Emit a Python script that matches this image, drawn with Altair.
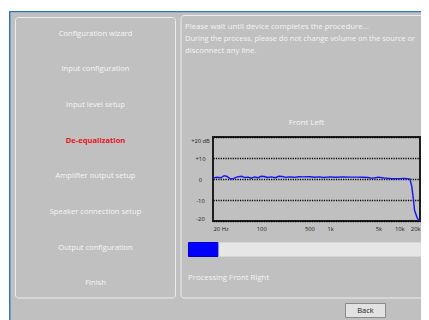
import altair as alt
import pandas as pd

# ---------------- data ----------------
freq_hz = [20, 23, 26, 29, 32, 36, 40, 45, 52, 58,
           65, 72, 80, 90, 100, 110, 125, 140, 160, 180,
           200, 230, 260, 300, 350, 400, 500, 600, 700, 800,
           1000, 1200, 1500, 2000, 2500, 3000, 3500, 4000, 4500, 5000,
           6000, 7000, 8000, 10000, 12000, 13000, 14300, 15200, 16100, 16700,
           18200, 19700, 20000]
level_db = [0.5, 0.8, 0.6, 1.6, 1.2, 0.0, 0.3, 1.0, 1.3, 0.7,
            0.9, 0.4, 1.0, 0.6, 1.3, 1.2, 0.7, 1.0, 0.6, 1.3,
            1.2, 0.8, 1.0, 0.8, 1.1, 1.0, 1.1, 0.8, 1.0, 0.7,
            1.0, 0.8, 1.0, 0.9, 0.9, 0.8, 0.7, 0.4, 0.6, 0.9,
            0.5, 0.3, 0.1, 0.2, 0.3, 0.2, 0.0, -3.5, -10.0, -15.0,
            -18.5, -20.2, -21.0]
x_ticks = [20, 100, 500, 1000, 5000, 10000, 20000]
x_tick_labels = ["20 Hz", "100", "500", "1k", "5k", "10k", "20k"]
y_ticks = [-20, -10, 0, 10, 20]
y_tick_labels = ["-20", "-10", "0", "+10", "+20 dB"]

menu_items = ["Configuration wizard", "Input configuration", "Input level setup",
              "De-equalization", "Amplifier output setup", "Speaker connection setup",
              "Output configuration", "Finish"]
active_item = "De-equalization"
info_lines = ["Please wait until device completes the procedure...",
              "During the process, please do not change volume on the source or",
              "disconnect any line."]
chart_title = "Front Left"
status_text = "Processing Front Right"
button_text = "Back"
progress_fraction = 0.125

# ---------------- layout (page pixels) ----------------
PLOT_X0, PLOT_Y0, PLOT_W, PLOT_H = 213, 137, 207, 84
SVG_W, SVG_H = 413, 312
FONT = "Open Sans"
BG = "#c0c0c0"


def px(X):
    return X - PLOT_X0


def py(Y):
    return Y - PLOT_Y0


one = pd.DataFrame({"k": [0]})


def box(x0, x1, y0, y1, **kw):
    return alt.Chart(one).mark_rect(**kw).encode(
        x=alt.value(px(x0)), x2=alt.value(px(x1)),
        y=alt.value(py(y0)), y2=alt.value(py(y1)))


def label(X, Y, txt, **kw):
    return alt.Chart(one).mark_text(baseline="middle", font=FONT, **kw).encode(
        x=alt.value(px(X)), y=alt.value(py(Y)), text=alt.value(txt))


layers = []
# window chrome
layers.append(box(8, 440, 8, 11, fill="white"))
layers.append(box(8, 9, 8, 330, fill="white"))
layers.append(box(9, 440, 11, 12.3, fill="#2d78cc"))
layers.append(box(9, 10.5, 11, 330, fill="#2d78cc"))
# panels
layers.append(box(15.5, 175.5, 17.5, 298, fill=BG, fillOpacity=0, stroke="#ececec",
                  strokeWidth=1, cornerRadius=3))
layers.append(box(181, 445, 15.5, 298, fill=BG, fillOpacity=0, stroke="#ececec",
                  strokeWidth=1, cornerRadius=3))
# menu
menu_y0, menu_dy = 33.5, 35.7
for i, item in enumerate(menu_items):
    act = item == active_item
    layers.append(label(95.5, menu_y0 + i * menu_dy, item, align="center",
                        fontSize=7.6, fontWeight="bold" if act else "normal",
                        color="#e8141c" if act else "#f6f6f6"))
# info text
info_sizes = [7.8, 7.45, 7.8]
for i, (line, fs) in enumerate(zip(info_lines, info_sizes)):
    layers.append(label(185, 26.5 + i * 12, line, align="left", fontSize=fs, color="#f4f4f4"))
layers.append(label(306.5, 122.5, chart_title, align="center", fontSize=7.8, color="#f6f6f6"))
# progress
bar_x0, bar_x1 = 188.5, 423.5
layers.append(box(bar_x0, bar_x1, 242.5, 256.5, fill="#e6e6e6", stroke="#d6d6d6", strokeWidth=1))
layers.append(box(bar_x0, bar_x0 + (bar_x1 - bar_x0) * progress_fraction, 242.5, 256.5,
                  fill="#0000ff", stroke="#0000c8", strokeWidth=1))
layers.append(label(188, 278, status_text, align="left", fontSize=7.8, color="#f4f4f4"))
# button
layers.append(box(345.5, 385.5, 303.5, 317.5, fill="#e2e2e2", stroke="#8a8a8a", strokeWidth=1))
layers.append(label(365.5, 310.5, button_text, align="center", fontSize=7.5, color="#222222"))

# frequency response
df = pd.DataFrame({"f": freq_hz, "db": level_db})
xlabel_expr = " : ".join(
    [f"datum.value == {v} ? '{t}'" for v, t in zip(x_ticks, x_tick_labels)] + ["''"])
ylabel_expr = " : ".join(
    [f"datum.value == {v} ? '{t}'" for v, t in zip(y_ticks, y_tick_labels)] + ["''"])

line = alt.Chart(df).mark_line(color="#1414f5", strokeWidth=1.4, clip=True).encode(
    x=alt.X("f:Q", scale=alt.Scale(type="log", domain=[20, 20000], nice=False),
            axis=alt.Axis(values=x_ticks, labelExpr=xlabel_expr, title=None, grid=False,
                          ticks=False, tickSize=0, domain=False, labelFlush=True,
                          labelFontSize=5.8, labelColor="#222222", labelFont=FONT,
                          labelPadding=4)),
    y=alt.Y("db:Q", scale=alt.Scale(domain=[-20, 20], nice=False),
            axis=alt.Axis(values=y_ticks, labelExpr=ylabel_expr, title=None, grid=True,
                          gridColor="#000000", gridDash=[1.2, 1.2], gridWidth=1.3,
                          ticks=False, tickSize=0, domain=False, labelFlush=True,
                          labelAlign="center", labelFontSize=5.8, labelColor="#222222",
                          labelFont=FONT, labelPadding=13)),
)
layers.append(line)

chart = alt.layer(*layers).properties(
    width=PLOT_W, height=PLOT_H,
    autosize=alt.AutoSizeParams(type="none"),
    padding={"left": PLOT_X0 - 8, "top": PLOT_Y0 - 8,
             "right": SVG_W - (PLOT_X0 - 8) - PLOT_W, "bottom": SVG_H - (PLOT_Y0 - 8) - PLOT_H},
).configure(background=BG).configure_view(stroke="#1e1e1e", strokeWidth=2, fill=None)

chart.save("out.html", embed_options={"renderer": "svg", "actions": False})
